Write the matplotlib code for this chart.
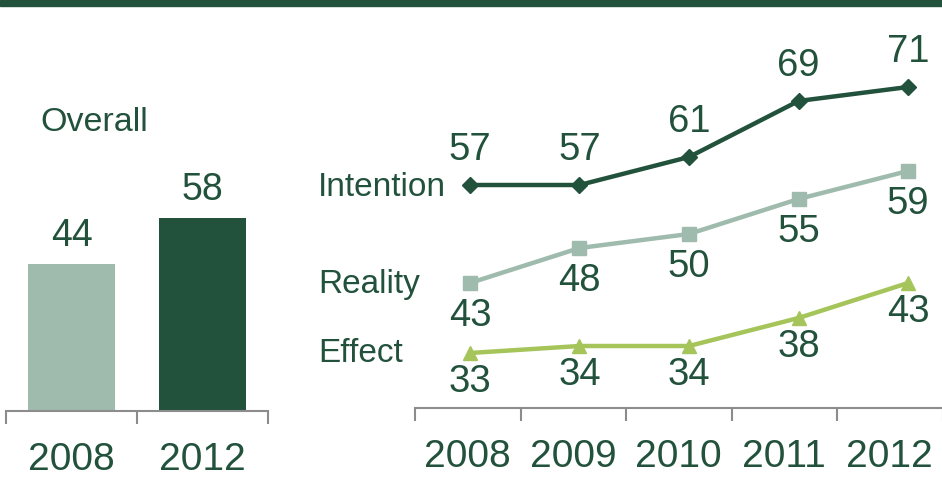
import matplotlib
matplotlib.use("Agg")
import matplotlib.pyplot as plt
from matplotlib.patches import Rectangle

# data
bar_years = ["2008", "2012"]
bar_values = [44, 58]
years = ["2008", "2009", "2010", "2011", "2012"]
intention = [57, 57, 61, 69, 71]
reality = [43, 48, 50, 55, 59]
effect = [33, 34, 34, 38, 43]

dark = "#22513C"
light = "#9FBBAD"
lime = "#A5C55B"
grey = "#8C8C8C"

plt.rcParams["font.family"] = ["Liberation Sans", "DejaVu Sans"]

W, H = 942, 483
fig = plt.figure(figsize=(W / 100, H / 100), dpi=100)


def box(x0, y0, x1, y1):
    # pixel box (top-left origin) -> figure fraction
    return [x0 / W, 1 - y1 / H, (x1 - x0) / W, (y1 - y0) / H]


# top band
fig.patches.append(Rectangle((0, 1 - 6 / H), 1, 6 / H, transform=fig.transFigure,
                             color=dark, zorder=0))

# ---- overall bars ----
ax1 = fig.add_axes(box(6, 11, 268, 411))
ax1.bar(range(len(bar_values)), bar_values, width=0.67, color=[light, dark])
ax1.set_xlim(-0.5, 1.5)
ax1.set_ylim(0, 120)
for i, v in enumerate(bar_values):
    ax1.text(i, v + 3, str(v), ha="center", va="bottom", fontsize=27, color=dark)
ax1.text(0.13, 0.722, "Overall", transform=ax1.transAxes, fontsize=24.5, color=dark,
         ha="left", va="center")


def style_axis(ax, n):
    for s in ["top", "right", "left"]:
        ax.spines[s].set_visible(False)
    ax.spines["bottom"].set_color(grey)
    ax.spines["bottom"].set_linewidth(1.5)
    ax.set_yticks([])
    ax.set_xticks(range(n))
    ax.set_xticks([i - 0.5 for i in range(n + 1)], minor=True)
    ax.tick_params(axis="x", which="major", length=0, pad=22, labelsize=28, labelcolor=dark)
    ax.tick_params(axis="x", which="minor", length=9, width=1.5, color=grey)
    ax.patch.set_alpha(0)


style_axis(ax1, len(bar_years))
ax1.set_xticklabels(bar_years)

# ---- trend lines ----
# axis with category ticks
ax2 = fig.add_axes(box(415, 60, 942.5, 408))
ax2.set_xlim(-0.5, 4.5)
ax2.set_ylim(0, 1)
style_axis(ax2, len(years))
ax2.set_xticklabels(years)

# lines
ax3 = fig.add_axes(box(415, 60, 942, 400))
ax3.set_xlim(-0.502, 4.31)
ax3.set_ylim(43 - 117 / 7, 43 + 223 / 7)
ax3.axis("off")
x = list(range(len(years)))
ax3.plot(x, intention, color=dark, lw=3.2, marker="D", ms=8, clip_on=False)
ax3.plot(x, reality, color=light, lw=3.2, marker="s", ms=10, clip_on=False)
ax3.plot(x, effect, color=lime, lw=3.2, marker="^", ms=10, clip_on=False)

for xi, v in zip(x, intention):
    ax3.annotate(str(v), (xi, v), xytext=(0, 25), textcoords="offset points",
                 ha="center", va="center", fontsize=27.5, color=dark, annotation_clip=False)
for xi, v in zip(x, reality):
    ax3.annotate(str(v), (xi, v), xytext=(0, -24), textcoords="offset points",
                 ha="center", va="center", fontsize=27.5, color=dark, annotation_clip=False)
for xi, v in zip(x, effect):
    ax3.annotate(str(v), (xi, v), xytext=(0, -21), textcoords="offset points",
                 ha="center", va="center", fontsize=27.5, color=dark, annotation_clip=False)

# series names
for name, yp in [("Intention", 187), ("Reality", 285), ("Effect", 354)]:
    fig.text(318 / W, 1 - yp / H, name, fontsize=24, color=dark, ha="left", va="center")

fig.savefig("out.png", dpi=100)
